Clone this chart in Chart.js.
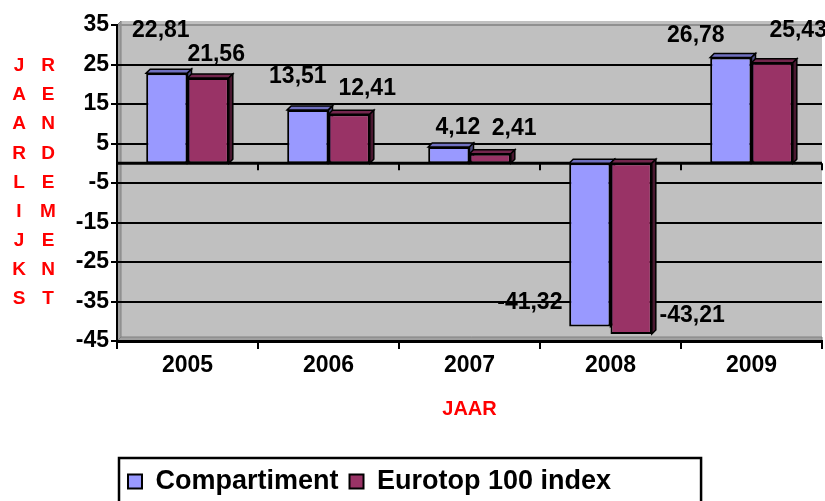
<!DOCTYPE html>
<html>
<head>
<meta charset="utf-8">
<script src="https://cdn.jsdelivr.net/npm/chart.js@4.4.1/dist/chart.umd.min.js"></script>
<style>
  html, body { margin: 0; padding: 0; background: #fff; }
  canvas { display: block; }
</style>
</head>
<body>
<canvas id="chart" width="825" height="501"></canvas>
<script>
/* ---------- Data ---------- */
const years = ['2005', '2006', '2007', '2008', '2009'];
const compartiment = [22.81, 13.51, 4.12, -41.32, 26.78];
const eurotop = [21.56, 12.41, 2.41, -43.21, 25.43];
const yMin = -45, yMax = 35, yStep = 10;
const yTitleCols = ['JAARLIJKS', 'RENDEMENT'];
const xTitle = 'JAAR';

/* ---------- Styling ---------- */
const FONT = "'Liberation Sans', Arial, sans-serif";
const DEPTH = 4;
const faceColors = [
    { top: '#7070c0', side: '#4d4d80' },
    { top: '#73264d', side: '#4a1830' }
];
// label offsets from the end of each bar (Excel placed these by hand)
const labelShift = [
    [[-6, -42], [-10, -33], [9, -19], [-60, -24], [-35, -22]],
    [[8, -23], [18, -26], [24, -25], [61, -18], [26, -32]]
];

Chart.defaults.font.family = FONT;
Chart.defaults.color = '#000';

function poly(ctx, pts, fill) {
    ctx.beginPath();
    ctx.moveTo(pts[0][0], pts[0][1]);
    for (let i = 1; i < pts.length; i++) ctx.lineTo(pts[i][0], pts[i][1]);
    ctx.closePath();
    ctx.fillStyle = fill;
    ctx.fill();
    ctx.stroke();
}

/* ---------- Plot walls (fake 3D) ---------- */
const wallPlugin = {
    id: 'walls',
    beforeDraw(chart) {
        const { ctx, chartArea: a } = chart;
        ctx.save();
        ctx.fillStyle = '#c0c0c0';
        ctx.fillRect(a.left + DEPTH, a.top - DEPTH, a.right - a.left - DEPTH, a.bottom - a.top);
        ctx.strokeStyle = '#808080';
        ctx.lineWidth = 1;
        poly(ctx, [[a.left, a.top], [a.left + DEPTH, a.top - DEPTH], [a.left + DEPTH, a.bottom - DEPTH], [a.left, a.bottom]], '#a0a0a0');
        poly(ctx, [[a.left, a.bottom], [a.left + DEPTH, a.bottom - DEPTH], [a.right, a.bottom - DEPTH], [a.right, a.bottom]], '#a0a0a0');
        ctx.restore();
    }
};

/* ---------- Zero line + bar faces ---------- */
const barFacesPlugin = {
    id: 'barFaces',
    beforeDatasetsDraw(chart) {
        const { ctx, chartArea: a, scales: { x, y } } = chart;
        const y0 = y.getPixelForValue(0);
        ctx.save();
        ctx.strokeStyle = '#000';
        ctx.lineWidth = 3;
        ctx.beginPath();
        ctx.moveTo(a.left, y0);
        ctx.lineTo(a.right, y0);
        ctx.stroke();
        // category ticks on the zero line
        ctx.lineWidth = 2;
        for (let i = 0; i <= years.length; i++) {
            const px = i < years.length
                ? x.getPixelForValue(i) - (x.getPixelForValue(1) - x.getPixelForValue(0)) / 2
                : a.right;
            ctx.beginPath();
            ctx.moveTo(px, y0);
            ctx.lineTo(px, y0 + 7);
            ctx.stroke();
        }
        ctx.lineWidth = 1.5;
        chart.data.datasets.forEach((ds, di) => {
            const meta = chart.getDatasetMeta(di);
            meta.data.forEach(bar => {
                const { x: bx, y: by, base, width } = bar.getProps(['x', 'y', 'base', 'width'], true);
                const l = bx - width / 2, r = bx + width / 2;
                const top = Math.min(by, base), bot = Math.max(by, base);
                poly(ctx, [[l, top], [l + DEPTH, top - DEPTH], [r + DEPTH, top - DEPTH], [r, top]], faceColors[di].top);
                poly(ctx, [[r, top], [r + DEPTH, top - DEPTH], [r + DEPTH, bot - DEPTH], [r, bot]], faceColors[di].side);
            });
        });
        ctx.restore();
    },
    afterDatasetsDraw(chart) {
        const { ctx } = chart;
        ctx.save();
        ctx.font = 'bold 23px ' + FONT;
        ctx.fillStyle = '#000';
        ctx.textAlign = 'center';
        ctx.textBaseline = 'middle';
        chart.data.datasets.forEach((ds, di) => {
            chart.getDatasetMeta(di).data.forEach((bar, i) => {
                const { x: bx, y: by } = bar.getProps(['x', 'y'], true);
                const txt = ds.data[i].toFixed(2).replace('.', ',');
                ctx.fillText(txt, bx + labelShift[di][i][0], by + labelShift[di][i][1]);
            });
        });
        ctx.restore();
    }
};

/* ---------- Stacked y title + legend frame ---------- */
const extrasPlugin = {
    id: 'extras',
    afterDraw(chart) {
        const { ctx } = chart;
        ctx.save();
        ctx.font = 'bold 19px ' + FONT;
        ctx.fillStyle = '#ff0000';
        ctx.textAlign = 'center';
        ctx.textBaseline = 'middle';
        yTitleCols.forEach((word, c) => {
            [...word].forEach((ch, k) => ctx.fillText(ch, 19 + c * 29, 66 + k * 29.1));
        });
        const lg = chart.legend;
        const hb = lg.legendHitBoxes;
        if (hb && hb.length) {
            const last = hb[hb.length - 1];
            const left = hb[0].left - 9;
            const right = last.left + last.width + 90;
            ctx.strokeStyle = '#000';
            ctx.lineWidth = 2.5;
            ctx.strokeRect(left, lg.top + 1, right - left, 120);
        }
        ctx.restore();
    }
};

new Chart(document.getElementById('chart'), {
    type: 'bar',
    data: {
        labels: years,
        datasets: [{
            label: 'Compartiment',
            data: compartiment,
            backgroundColor: '#9999ff',
            borderColor: '#000',
            borderWidth: 2,
            borderSkipped: false
        }, {
            label: 'Eurotop 100 index',
            data: eurotop,
            backgroundColor: '#993366',
            borderColor: '#000',
            borderWidth: 2,
            borderSkipped: false
        }]
    },
    options: {
        responsive: false,
        animation: false,
        devicePixelRatio: 1,
        layout: { padding: { top: 25, right: 3, bottom: -4, left: 0 } },
        datasets: { bar: { categoryPercentage: 0.586, barPercentage: 1 } },
        plugins: {
            legend: {
                position: 'bottom',
                fullSize: false,
                align: 'start',
                labels: {
                    boxWidth: 14, boxHeight: 14, padding: 11,
                    color: '#000',
                    font: { size: 27, weight: 'bold' }
                }
            },
            tooltip: { enabled: false }
        },
        scales: {
            x: {
                grid: { drawOnChartArea: false, color: '#000', lineWidth: 2, tickLength: 8 },
                border: { color: '#000', width: 3 },
                ticks: { color: '#000', font: { size: 23, weight: 'bold' }, padding: 3 },
                title: {
                    display: true, text: xTitle, color: '#ff0000',
                    font: { size: 20, weight: 'bold' },
                    padding: { top: 0, bottom: 36 }
                },
                afterFit(s) { s.height = 116; }
            },
            y: {
                min: yMin, max: yMax,
                ticks: { stepSize: yStep, color: '#000', font: { size: 23, weight: 'bold' }, padding: 2 },
                grid: {
                    color: c => (c.tick && c.tick.value === yMax) ? '#909090' : '#000',
                    lineWidth: 2, tickLength: 6, tickColor: '#000'
                },
                border: { color: '#000', width: 2 },
                afterFit(s) { s.width = 117; }
            }
        }
    },
    plugins: [wallPlugin, barFacesPlugin, extrasPlugin]
});
</script>
</body>
</html>
